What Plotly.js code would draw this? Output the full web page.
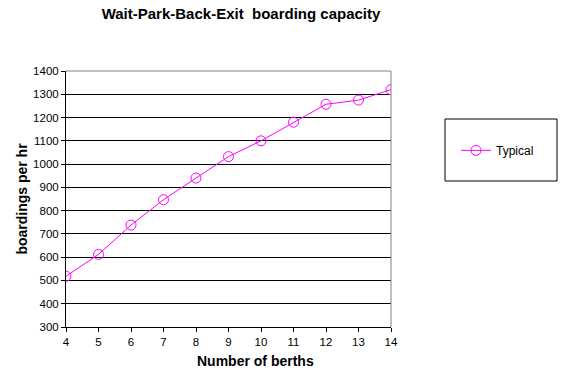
<!DOCTYPE html>
<html>
<head>
<meta charset="utf-8">
<script src="https://cdn.plot.ly/plotly-3.0.1.min.js"></script>
<style>html,body{margin:0;padding:0;background:#fff;}#chart{width:562px;height:380px;}</style>
</head>
<body>
<div id="chart"></div>
<script>
var berths = [4, 5, 6, 7, 8, 9, 10, 11, 12, 13, 14];
var typical = [518, 612, 738, 847, 940, 1032, 1100, 1180, 1257, 1275, 1320];
var seriesName = "Typical";
var yTicks = [300, 400, 500, 600, 700, 800, 900, 1000, 1100, 1200, 1300, 1400];

var font = "Arial, 'Liberation Sans', sans-serif";
var trace = {
  x: berths, y: typical, name: seriesName, type: "scatter", mode: "lines+markers",
  line: {color: "#FF00FF", width: 1},
  marker: {symbol: "circle-open", size: 10, color: "#FF00FF", line: {color: "#FF00FF", width: 1}},
  showlegend: true
};
var layout = {
  width: 562, height: 380,
  margin: {l: 66, r: 171, t: 71, b: 53},
  paper_bgcolor: "#fff", plot_bgcolor: "#fff",
  font: {family: font, size: 11, color: "#000"},
  title: {text: "<b>Wait-Park-Back-Exit  boarding capacity</b>", font: {family: font, size: 15, color: "#000"},
          x: 241/562, xanchor: "center", y: 1 - 14/380, yanchor: "middle"},
  xaxis: {range: [4, 14], tickvals: berths, ticks: "outside", ticklen: 4, tickcolor: "#000",
          showline: true, linecolor: "#000", linewidth: 1, showgrid: false, zeroline: false,
          tickfont: {family: font, size: 11.5, color: "#000"}},
  yaxis: {range: [300, 1400], tickvals: yTicks, ticks: "outside", ticklen: 4, tickcolor: "#000",
          showline: true, linecolor: "#000", linewidth: 1, showgrid: true, gridcolor: "#000", gridwidth: 1, zeroline: false,
          tickfont: {family: font, size: 11.5, color: "#000"},
          title: {text: "<b>boardings per hr</b>", font: {family: font, size: 14, color: "#000"}, standoff: 2}},
  annotations: [
    {text: "<b>Number of berths</b>", xref: "paper", yref: "paper", x: (255-66)/325, y: (327-361)/256,
     xanchor: "center", yanchor: "middle", showarrow: false, font: {family: font, size: 14, color: "#000"}}
  ],
  showlegend: true,
  legend: {x: 1.2, y: 0.69, xanchor: "left", yanchor: "middle", bgcolor: "rgba(0,0,0,0)", borderwidth: 0,
           font: {family: font, size: 12, color: "#000"}},
  shapes: [
    {type: "line", xref: "paper", yref: "paper", x0: 0, x1: 1, y0: 1, y1: 1, line: {color: "#808080", width: 1}},
    {type: "line", xref: "paper", yref: "paper", x0: 1, x1: 1, y0: 0, y1: 1, line: {color: "#808080", width: 1}},
    {type: "rect", xref: "paper", yref: "paper", x0: (445-66)/325, x1: (557-66)/325, y0: (327-181)/256, y1: (327-119)/256,
     line: {color: "#000", width: 1}, fillcolor: "rgba(0,0,0,0)"}
  ]
};
Plotly.newPlot("chart", [trace], layout, {displayModeBar: false, staticPlot: true});
</script>
</body>
</html>
